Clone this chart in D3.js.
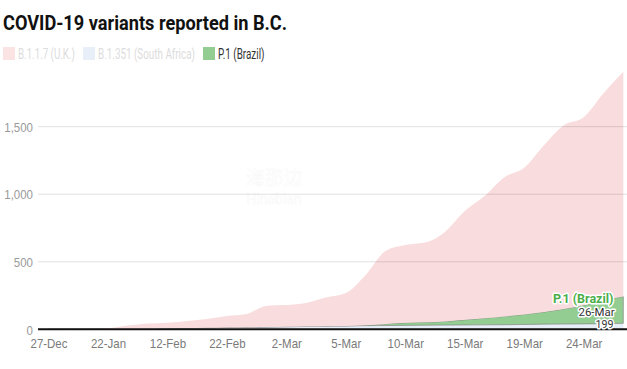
<!DOCTYPE html>
<html>
<head>
<meta charset="utf-8">
<script src="https://cdn.jsdelivr.net/npm/d3@7"></script>
<style>
  body { margin: 0; background: #fff; font-family: Roboto, sans-serif; }
</style>
</head>
<body>
<div id="chart"></div>
<script>
// reporting dates (categories) and cumulative cases per variant
const dates = ["27-Dec", "8-Jan", "15-Jan", "22-Jan", "29-Jan", "5-Feb", "12-Feb", "16-Feb", "19-Feb", "22-Feb",
  "25-Feb", "26-Feb", "2-Mar", "3-Mar", "4-Mar", "5-Mar", "8-Mar", "9-Mar", "10-Mar", "11-Mar",
  "12-Mar", "15-Mar", "16-Mar", "18-Mar", "19-Mar", "22-Mar", "23-Mar", "24-Mar", "25-Mar", "26-Mar"];
const b117 = [0, 0, 1, 6, 26, 40, 43, 52, 65, 85,
  98, 158, 161, 174, 212, 243, 372, 539, 576, 590,
  662, 805, 904, 1031, 1087, 1235, 1361, 1392, 1533, 1664];
const b1351 = [0, 0, 0, 1, 2, 3, 6, 9, 11, 13,
  15, 17, 19, 21, 23, 25, 27, 28, 29, 30,
  31, 32, 33, 34, 36, 38, 39, 40, 42, 44];
const p1 = [0, 0, 0, 0, 0, 0, 0, 0, 0, 0,
  0, 0, 0, 0, 0, 0, 3, 12, 19, 22,
  27, 38, 49, 61, 74, 90, 111, 138, 173, 199];
const tickDates = ["27-Dec", "22-Jan", "12-Feb", "22-Feb", "2-Mar", "5-Mar", "10-Mar", "15-Mar", "19-Mar", "24-Mar"];
const yTicks = [0, 500, 1000, 1500];
const seriesNames = ["B.1.1.7 (U.K.)", "B.1.351 (South Africa)", "P.1 (Brazil)"];

const W = 627, H = 369;
const svg = d3.select("#chart").append("svg").attr("width", W).attr("height", H);

// squeeze Roboto a bit so it reads like the narrower original face
function condense(sel, f) {
  sel.each(function () {
    const w = this.getComputedTextLength();
    d3.select(this).attr("textLength", w * f).attr("lengthAdjust", "spacingAndGlyphs");
  });
}

const x = d3.scalePoint().domain(dates).range([48.5, 623.3]);
const y = d3.scaleLinear().domain([0, 1500]).range([329.3, 126.7]);

const rows = dates.map((d, i) => ({ date: d, b1351: b1351[i], p1: p1[i], b117: b117[i] }));
const keys = ["b1351", "p1", "b117"];
const fills = { b117: "#f9dcdd", b1351: "#e6eef8", p1: "#93cd92" };
const stacked = d3.stack().keys(keys)(rows);

const area = d3.area()
  .x(d => x(d.data.date))
  .y0(d => y(d[0]))
  .y1(d => y(d[1]))
  .curve(d3.curveMonotoneX);

svg.append("g").selectAll("path")
  .data(stacked)
  .join("path")
  .attr("d", area)
  .attr("fill", s => fills[s.key])
  .attr("stroke", s => s.key === "p1" ? "#7d7d7d" : "none")
  .attr("stroke-width", 0.8)
  .attr("stroke-opacity", 0.8);

// watermark (white on white, only shows where it crosses marks)
const wm = svg.append("g").attr("fill", "#fff").attr("stroke", "#f5f5f5").attr("stroke-width", 0.3);
wm.append("text").attr("x", 274).attr("y", 185).attr("text-anchor", "middle")
  .style("font-family", "'Noto Sans CJK SC'").style("font-size", "19px").text("海那边");
wm.append("text").attr("x", 274).attr("y", 204).attr("text-anchor", "middle")
  .style("font-size", "14px").text("Hinabian");

// gridlines drawn over the areas
svg.append("g").selectAll("line")
  .data(yTicks.filter(t => t > 0))
  .join("line")
  .attr("x1", 38).attr("x2", W)
  .attr("y1", d => y(d)).attr("y2", d => y(d))
  .attr("stroke", "#000").attr("stroke-opacity", 0.12);

// y axis labels
const yAxis = svg.append("g")
  .attr("transform", "translate(33,0)")
  .call(d3.axisLeft(y).tickValues(yTicks).tickFormat(d3.format(",")).tickSize(0).tickPadding(0));
yAxis.select(".domain").remove();
yAxis.selectAll("text").attr("fill", "#9a9a9a").style("font-size", "13.5px").attr("dy", "0.35em");
condense(yAxis.selectAll("text"), 0.85);

// baseline
svg.append("line")
  .attr("x1", 38).attr("x2", W)
  .attr("y1", y(0)).attr("y2", y(0))
  .attr("stroke", "#111").attr("stroke-width", 2);

// x axis labels
const xAxis = svg.append("g")
  .attr("transform", `translate(0,${y(0)})`)
  .call(d3.axisBottom(x).tickValues(tickDates).tickSize(0).tickPadding(0));
xAxis.select(".domain").remove();
xAxis.selectAll("text").attr("fill", "#7a7a7a").style("font-size", "13.5px").attr("dy", null).attr("y", 18.5);
condense(xAxis.selectAll("text"), 0.85);

// title
const title = svg.append("text").attr("x", 3).attr("y", 30)
  .style("font-size", "20.5px").style("font-weight", "bold").attr("fill", "#111")
  .text("COVID-19 variants reported in B.C.");
title.attr("textLength", 284).attr("lengthAdjust", "spacingAndGlyphs");

// legend (P.1 highlighted, others faded)
const legendItems = [
  { name: seriesNames[0], color: "#fbe3e3", text: "#dcdcdc", x: 3, w: 57 },
  { name: seriesNames[1], color: "#e9eff8", text: "#dcdcdc", x: 83, w: 97 },
  { name: seriesNames[2], color: "#93cd92", text: "#333", x: 203, w: 46.5 }
];
const lg = svg.append("g").selectAll("g").data(legendItems).join("g")
  .attr("transform", d => `translate(${d.x},47)`);
lg.append("rect").attr("width", 12).attr("height", 13).attr("fill", d => d.color);
lg.append("text")
  .style("font-size", "14px").attr("fill", d => d.text)
  .text(d => d.name)
  .each(function (d) {
    const sx = d.w / this.getComputedTextLength();
    d3.select(this).attr("transform", `translate(15,11.5) scale(${sx},1)`);
  });

// annotation at last point
const last = dates.length - 1;
const ann = svg.append("g").attr("text-anchor", "end")
  .attr("stroke", "#fff").attr("stroke-width", 3).attr("stroke-linejoin", "round")
  .style("paint-order", "stroke");
ann.append("text").attr("x", 613.5).attr("y", 302.5)
  .style("font-size", "13px").style("font-weight", "bold").attr("fill", "#4cae4b")
  .attr("textLength", 60.5).attr("lengthAdjust", "spacingAndGlyphs")
  .text(seriesNames[2]);
ann.append("text").attr("x", 614.5).attr("y", 315.5)
  .style("font-size", "11.5px").attr("fill", "#333")
  .attr("textLength", 36).attr("lengthAdjust", "spacingAndGlyphs")
  .text(dates[last]);
ann.append("text").attr("x", 613.5).attr("y", 328)
  .style("font-size", "11.5px").attr("fill", "#333")
  .attr("textLength", 18).attr("lengthAdjust", "spacingAndGlyphs")
  .text(d3.format(",")(p1[last]));
</script>
</body>
</html>
